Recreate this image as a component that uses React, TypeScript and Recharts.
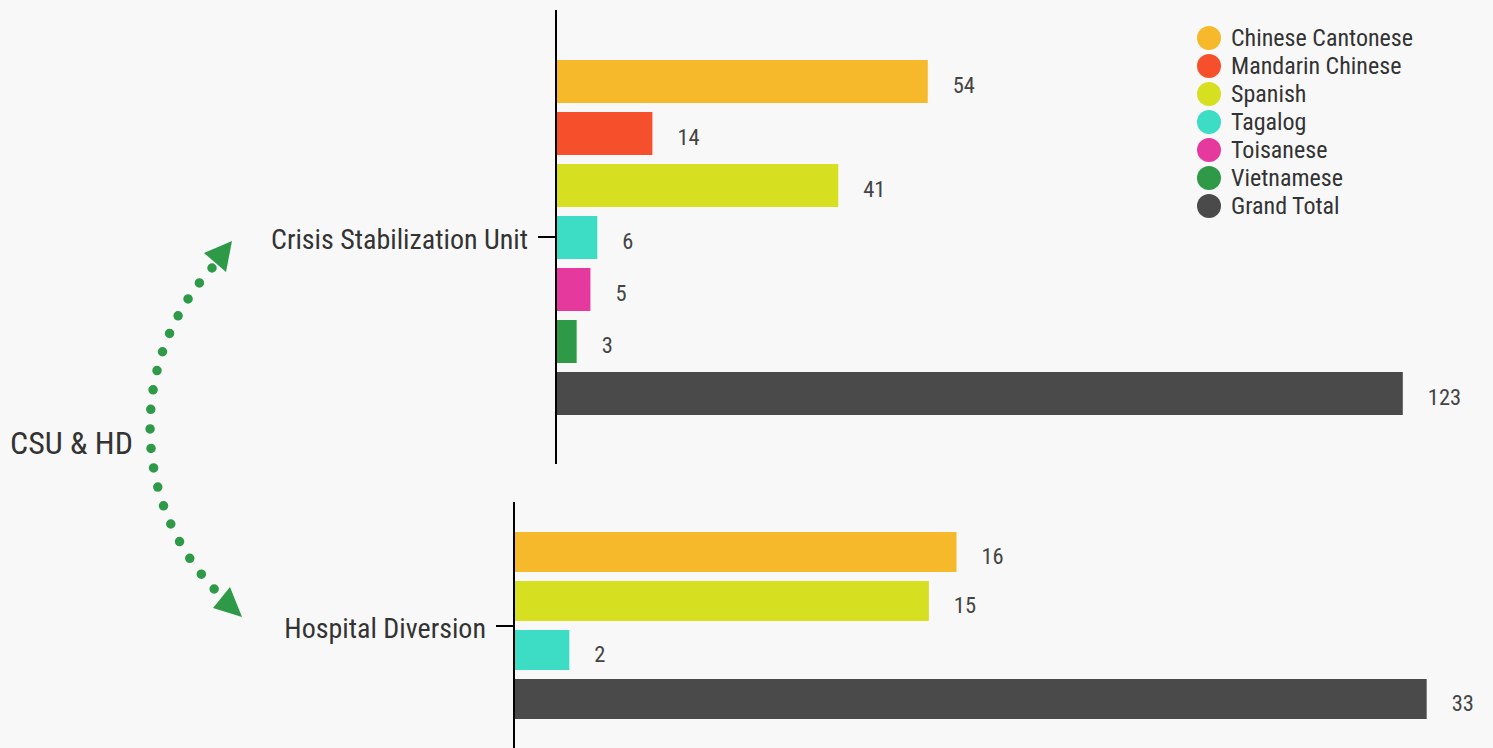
import React from "react";
import { BarChart, Bar, XAxis, YAxis, LabelList, Legend } from "recharts";

const seriesNames = ["Chinese Cantonese", "Mandarin Chinese", "Spanish", "Tagalog", "Toisanese", "Vietnamese", "Grand Total"];
const seriesColors = ["#f6b92b", "#f64f2c", "#d6df20", "#3ddcc4", "#e5399e", "#2e9a48", "#4a4a4a"];

const csuCategory = ["Crisis Stabilization Unit"];
const csuValues = [54, 14, 41, 6, 5, 3, 123];

const hdCategory = ["Hospital Diversion"];
const hdSeries = ["Chinese Cantonese", "Spanish", "Tagalog", "Grand Total"];
const hdValues = [16, 15, 2, 33];

const FONT = "'Roboto Condensed', 'Liberation Sans Narrow', 'DejaVu Sans Condensed', Roboto, sans-serif";

const csuData = [
  Object.fromEntries([["name", csuCategory[0]], ...seriesNames.map((s, i) => [s, csuValues[i]])]),
];
const hdData = [
  Object.fromEntries([["name", hdCategory[0]], ...hdSeries.map((s, i) => [s, hdValues[i]])]),
];

const colorOf = (s: string) => seriesColors[seriesNames.indexOf(s)];

const LegendContent = (props: any) => {
  const payload = [...(props.payload || [])].sort(
    (a: any, b: any) => seriesNames.indexOf(a.value) - seriesNames.indexOf(b.value)
  );
  return (
    <div style={{ fontFamily: FONT }}>
      {payload.map((p: any) => (
        <div key={p.value} style={{ display: "flex", alignItems: "center", height: 28 }}>
          <span style={{ width: 24, height: 24, borderRadius: 12, background: p.color, display: "inline-block", marginRight: 10, flexShrink: 0 }} />
          <span style={{ fontSize: 24, color: "#333", whiteSpace: "nowrap" }}>{p.value}</span>
        </div>
      ))}
    </div>
  );
};

export default function App() {
  return (
    <div style={{ position: "fixed", left: 0, top: 0, width: 1493, height: 748, background: "#f8f8f8", overflow: "hidden", fontFamily: FONT }}>
      <div style={{ position: "absolute", left: 0, top: 0 }}>
        <BarChart
          width={1493}
          height={474}
          data={csuData}
          layout="vertical"
          margin={{ top: 10, right: 42, bottom: 10, left: 0 }}
          barCategoryGap={50}
          barGap={9}
        >
          <XAxis type="number" domain={[0, 130]} hide />
          <YAxis
            type="category"
            dataKey="name"
            width={556}
            axisLine={{ stroke: "#000", strokeWidth: 2 }}
            tickLine={{ stroke: "#000", strokeWidth: 2 }}
            tickSize={18}
            tickMargin={10}
            tick={{ fontSize: 28, fill: "#333", fontFamily: FONT, dy: 2 }}
          />
          <Legend
            layout="vertical"
            align="center"
            verticalAlign="middle"
            itemSorter={null as any}
            content={<LegendContent />}
            wrapperStyle={{ top: 24, left: 1197, width: 290, bottom: "auto", right: "auto" }}
          />
          {seriesNames.map((s, i) => (
            <Bar key={s} dataKey={s} name={s} fill={seriesColors[i]} isAnimationActive={false}>
              <LabelList dataKey={s} position="right" offset={25} fill="#444" fontSize={22.5} fontFamily={FONT} dy={4} />
            </Bar>
          ))}
        </BarChart>
      </div>
      <div style={{ position: "absolute", left: 0, top: 492 }}>
        <BarChart
          width={1493}
          height={268}
          data={hdData}
          layout="vertical"
          margin={{ top: 10, right: 11, bottom: 10, left: 0 }}
          barCategoryGap={30}
          barGap={9}
        >
          <XAxis type="number" domain={[0, 35]} hide />
          <YAxis
            type="category"
            dataKey="name"
            width={514}
            axisLine={{ stroke: "#000", strokeWidth: 2 }}
            tickLine={{ stroke: "#000", strokeWidth: 2 }}
            tickSize={18}
            tickMargin={10}
            tick={{ fontSize: 28, fill: "#333", fontFamily: FONT, dy: 2 }}
          />
          {hdSeries.map((s) => (
            <Bar key={s} dataKey={s} name={s} fill={colorOf(s)} isAnimationActive={false}>
              <LabelList dataKey={s} position="right" offset={25} fill="#444" fontSize={22.5} fontFamily={FONT} dy={4} />
            </Bar>
          ))}
        </BarChart>
      </div>
      <div style={{ position: "absolute", left: 10, top: 423, fontSize: 32, color: "#333", lineHeight: "40px" }}>CSU &amp; HD</div>
      <svg style={{ position: "absolute", left: 0, top: 0 }} width={1493} height={748}>
        <path
          d="M 212 268 A 236 236 0 0 0 221 596"
          fill="none"
          stroke="#2e9a48"
          strokeWidth={9.5}
          strokeLinecap="round"
          strokeDasharray="0 19.6"
        />
        <polygon points="204,253 232,241 226,272" fill="#2e9a48" />
        <polygon points="213,608 230,587 242,617" fill="#2e9a48" />
      </svg>
    </div>
  );
}
